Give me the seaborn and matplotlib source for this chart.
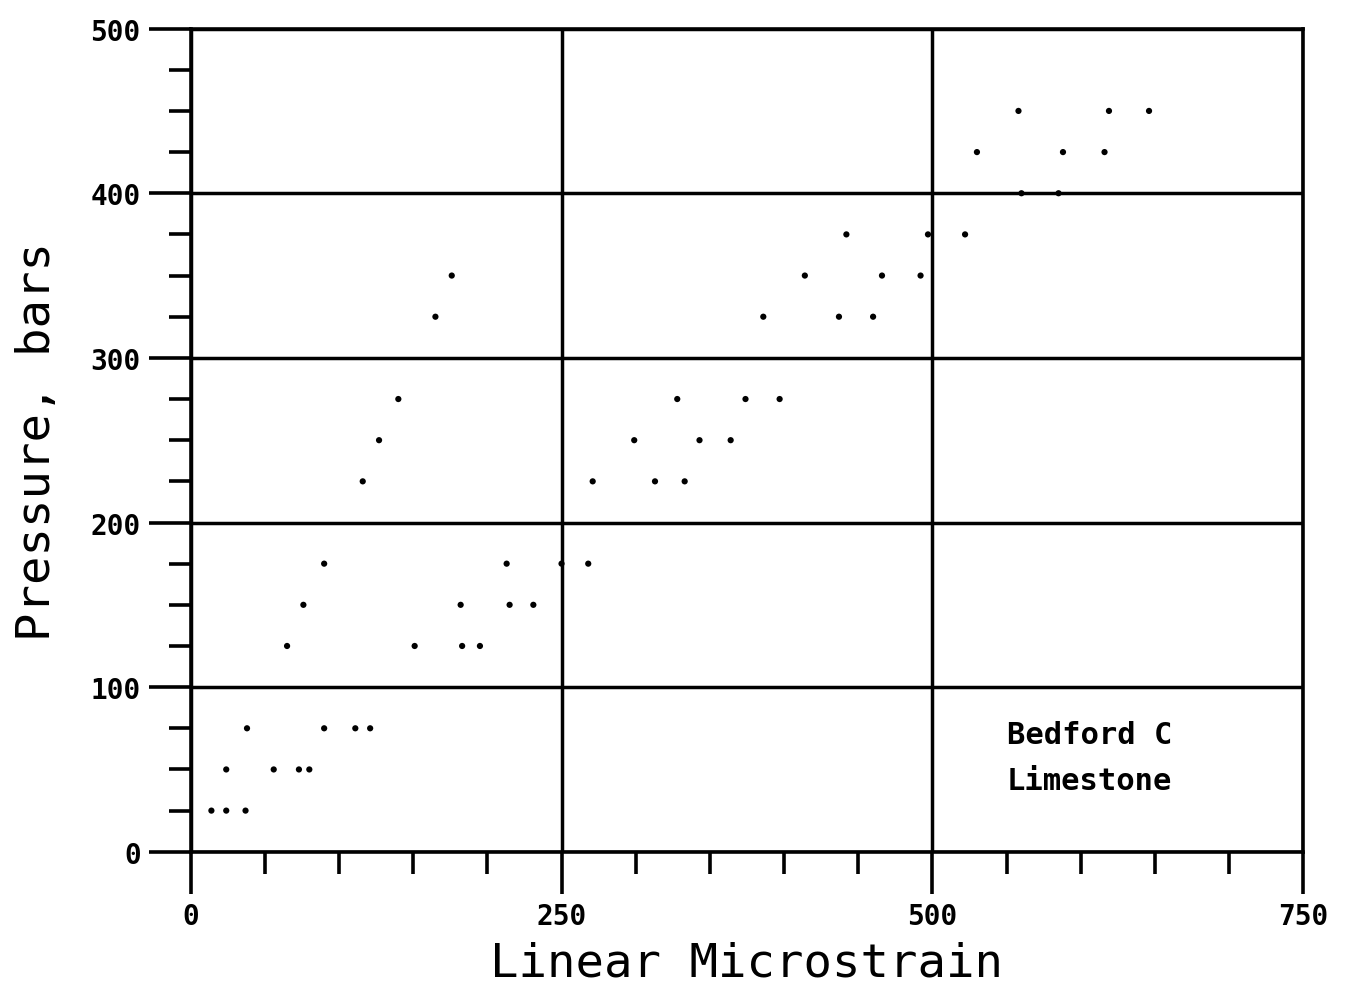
import numpy as np
import pandas as pd
import matplotlib
matplotlib.use("Agg")
import matplotlib.pyplot as plt
import seaborn as sns
from matplotlib.ticker import MultipleLocator

# Data (pressure levels in bars, strain in microstrain)
pressure = [25, 25, 25,
            50, 50, 50, 50,
            75, 75, 75, 75,
            125, 125, 125, 125,
            150, 150, 150, 150,
            175, 175, 175, 175,
            225, 225, 225, 225,
            250, 250, 250, 250,
            275, 275, 275, 275,
            325, 325, 325, 325,
            350, 350, 350, 350,
            375, 375, 375,
            400, 400,
            425, 425, 425,
            450, 450, 450]
strain = [14, 24, 37,
          24, 56, 73, 80,
          38, 90, 111, 121,
          65, 151, 183, 195,
          76, 182, 215, 231,
          90, 213, 250, 268,
          116, 271, 313, 333,
          127, 299, 343, 364,
          140, 328, 374, 397,
          165, 386, 437, 460,
          176, 414, 466, 492,
          442, 497, 522,
          560, 585,
          530, 588, 616,
          558, 619, 646]

x_ticks = [0, 250, 500, 750]
y_ticks = [0, 100, 200, 300, 400, 500]
x_label = "Linear Microstrain"
y_label = "Pressure, bars"
note_lines = ["Bedford C", "Limestone"]

df = pd.DataFrame({"strain": strain, "pressure": pressure})

sns.set_style("ticks")
plt.rcParams["font.family"] = ["DejaVu Sans Mono", "DejaVu Sans"]
plt.rcParams["text.color"] = "black"
plt.rcParams["axes.labelcolor"] = "black"
plt.rcParams["xtick.color"] = "black"
plt.rcParams["ytick.color"] = "black"

fig = plt.figure(figsize=(13.52, 9.87), dpi=100)
ax = fig.add_axes([0.141, 0.136, 0.823, 0.834])

sns.scatterplot(data=df, x="strain", y="pressure", ax=ax, color="black",
                s=20, edgecolor="none", legend=False, zorder=3)

ax.set_xlim(0, 750)
ax.set_ylim(0, 500)
ax.set_xticks(x_ticks)
ax.set_yticks(y_ticks)
ax.xaxis.set_minor_locator(MultipleLocator(50))
ax.yaxis.set_minor_locator(MultipleLocator(25))

ax.grid(True, which="major", color="black", linewidth=2.5)
for sp in ax.spines.values():
    sp.set_linewidth(2.6)
    sp.set_color("black")

ax.tick_params(axis="both", which="major", direction="out", length=30,
               width=2.6, color="black", labelcolor="black", labelsize=20, pad=6)
ax.tick_params(axis="both", which="minor", direction="out", length=16,
               width=2.6, color="black")
for lab in ax.get_xticklabels() + ax.get_yticklabels():
    lab.set_fontweight("bold")

ax.set_xlabel(x_label, fontsize=34, labelpad=8, color="black")
ax.set_ylabel(y_label, fontsize=34, labelpad=22, color="black")

ax.text(550, 71, note_lines[0], fontsize=22, fontweight="bold", va="center",
        ha="left", color="black")
ax.text(550, 43, note_lines[1], fontsize=22, fontweight="bold", va="center",
        ha="left", color="black")

fig.savefig("out.png", dpi=100, facecolor="white")
